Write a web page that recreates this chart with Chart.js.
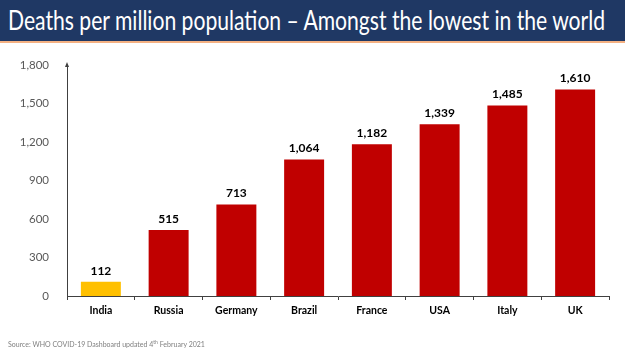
<!DOCTYPE html>
<html lang="en">
<head>
  <meta charset="UTF-8">
  <title>Deaths per million population</title>
  <script src="https://cdn.jsdelivr.net/npm/chart.js"></script>
  <style>
    html, body { margin: 0; padding: 0; background: #fff; }
    body { width: 625px; height: 351px; position: relative; overflow: hidden; font-family: Lato, sans-serif; }
    .header {
      position: absolute; left: 0; top: 0; width: 625px; height: 41px;
      background: #1f3864; border-bottom: 2px solid #f4b183;
    }
    .title {
      position: absolute; left: 8px; top: 4px; color: #fff;
      font-size: 26px; white-space: nowrap; transform-origin: left top;
    }
    .chart-box { position: absolute; left: 0; top: 0; width: 625px; height: 351px; }
    .source {
      position: absolute; left: 8px; top: 339px; font-size: 7px; color: #808080;
    }
    .source sup { font-size: 5px; }
  </style>
</head>
<body>
  <div class="chart-box"><canvas id="deathsChart" width="625" height="351"></canvas></div>
  <div class="header"><div class="title" id="title">Deaths per million population – Amongst the lowest in the world</div></div>
  <div class="source">Source: WHO COVID-19 Dashboard updated 4<sup>th</sup> February 2021</div>
  <script>
    // data
    const countries = ['India', 'Russia', 'Germany', 'Brazil', 'France', 'USA', 'Italy', 'UK'];
    const deathsPerMillion = [112, 515, 713, 1064, 1182, 1339, 1485, 1610];
    const barColors = ['#ffc000', '#c00000', '#c00000', '#c00000', '#c00000', '#c00000', '#c00000', '#c00000'];
    const yTicks = [0, 300, 600, 900, 1200, 1500, 1800];

    // squeeze title to slide width
    const title = document.getElementById('title');
    title.style.transform = 'scaleX(' + (597 / title.scrollWidth) + ')';

    const valueLabels = {
      id: 'valueLabels',
      afterDatasetsDraw(chart) {
        const ctx = chart.ctx;
        const meta = chart.getDatasetMeta(0);
        ctx.save();
        ctx.font = 'bold 12px Lato, sans-serif';
        ctx.fillStyle = '#000';
        ctx.textAlign = 'center';
        ctx.textBaseline = 'bottom';
        meta.data.forEach((bar, i) => {
          ctx.fillText(deathsPerMillion[i].toLocaleString('en-US'), bar.x, bar.y - 5);
        });
        ctx.restore();
      }
    };

    // little arrow head on top of the y axis
    const axisArrow = {
      id: 'axisArrow',
      afterDraw(chart) {
        const ctx = chart.ctx;
        const x = chart.chartArea.left;
        const y = chart.chartArea.top;
        ctx.save();
        ctx.fillStyle = '#404040';
        ctx.beginPath();
        ctx.moveTo(x, y - 3);
        ctx.lineTo(x - 2, y + 2);
        ctx.lineTo(x + 2, y + 2);
        ctx.closePath();
        ctx.fill();
        ctx.restore();
      }
    };

    new Chart(document.getElementById('deathsChart'), {
      type: 'bar',
      data: {
        labels: countries,
        datasets: [{
          data: deathsPerMillion,
          backgroundColor: barColors,
          categoryPercentage: 1,
          barPercentage: 0.59
        }]
      },
      options: {
        responsive: false,
        animation: false,
        devicePixelRatio: 1,
        layout: { padding: { top: 65, right: 16, bottom: 30, left: 0 } },
        plugins: { legend: { display: false }, tooltip: { enabled: false } },
        scales: {
          x: {
            afterFit(scale) { scale.height = 25; },
            grid: { display: true, offset: true, drawOnChartArea: false, tickLength: 4, color: '#404040' },
            border: { color: '#404040', width: 1 },
            ticks: { color: '#000', autoSkip: false, maxRotation: 0, minRotation: 0, font: { family: 'Lato, sans-serif', size: 10.5, weight: 'bold' }, padding: 4 }
          },
          y: {
            min: 0,
            max: 1800,
            afterFit(scale) { scale.width = 67; },
            afterBuildTicks(scale) { scale.ticks = yTicks.map(v => ({ value: v })); },
            grid: { display: false },
            border: { color: '#404040', width: 1 },
            ticks: {
              color: '#595959',
              autoSkip: false,
              font: { family: 'Lato, sans-serif', size: 11.5 },
              padding: 10,
              callback: v => v.toLocaleString('en-US')
            }
          }
        }
      },
      plugins: [valueLabels, axisArrow]
    });
  </script>
</body>
</html>
